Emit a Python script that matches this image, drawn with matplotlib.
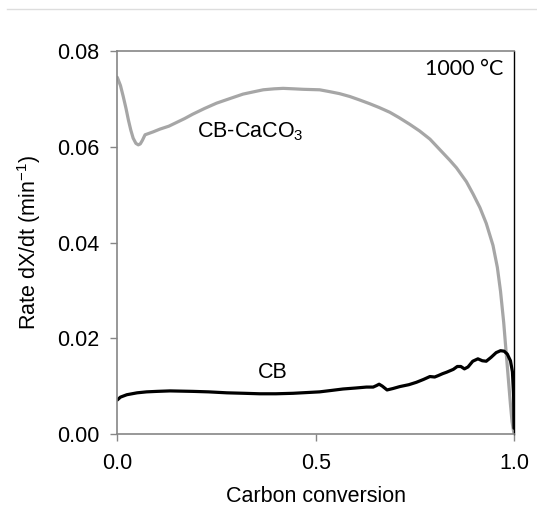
import matplotlib
matplotlib.use("Agg")
import matplotlib.pyplot as plt
from matplotlib.lines import Line2D

plt.rcParams['font.family'] = ['Liberation Sans', 'DejaVu Sans']
plt.rcParams['mathtext.fontset'] = 'custom'
plt.rcParams['mathtext.rm'] = 'Liberation Sans'
plt.rcParams['mathtext.it'] = 'Liberation Sans'

# CB-CaCO3 series (grey)
x_caco3 = [0.0, 0.008, 0.015, 0.022, 0.028, 0.034, 0.040, 0.047, 0.053, 0.058,
           0.063, 0.07, 0.09, 0.108, 0.13, 0.15, 0.17, 0.19, 0.22, 0.25, 0.285,
           0.317, 0.345, 0.368, 0.395, 0.418, 0.445, 0.469, 0.51, 0.536, 0.56,
           0.586, 0.61, 0.636, 0.66, 0.687, 0.71, 0.737, 0.762, 0.788, 0.813,
           0.838, 0.855, 0.88, 0.897, 0.914, 0.93, 0.947, 0.958, 0.966, 0.974,
           0.980, 0.986, 0.991, 0.995, 1.0]
y_caco3 = [0.0745, 0.0728, 0.0705, 0.0680, 0.0656, 0.0635, 0.0618, 0.0607, 0.0604,
           0.0606, 0.0613, 0.0625, 0.0631, 0.0637, 0.0643, 0.0651, 0.0659, 0.0668,
           0.0680, 0.0691, 0.0701, 0.0710, 0.0715, 0.0719, 0.0721, 0.0722, 0.0721,
           0.0720, 0.0719, 0.0715, 0.0711, 0.0705, 0.0698, 0.0690, 0.0682, 0.0672,
           0.0661, 0.0647, 0.0633, 0.0616, 0.0594, 0.0572, 0.0556, 0.0527, 0.0501,
           0.0473, 0.0440, 0.0394, 0.0348, 0.0298, 0.0233, 0.0172, 0.0112, 0.0062,
           0.0026, 0.0]

# CB series (black)
x_cb = [0.0, 0.008, 0.024, 0.05, 0.074, 0.1, 0.133, 0.191, 0.23, 0.276, 0.32,
        0.359, 0.40, 0.443, 0.51, 0.54, 0.569, 0.60, 0.628, 0.645, 0.653, 0.660,
        0.668, 0.680, 0.695, 0.712, 0.735, 0.754, 0.772, 0.788, 0.80, 0.809,
        0.820, 0.830, 0.847, 0.857, 0.866, 0.875, 0.884, 0.896, 0.909, 0.920,
        0.930, 0.942, 0.955, 0.966, 0.975, 0.983, 0.991, 0.996, 0.999, 1.0]
y_cb = [0.0071, 0.0077, 0.0082, 0.0086, 0.0088, 0.0089, 0.0090, 0.0089, 0.0088,
        0.0086, 0.0085, 0.0084, 0.0084, 0.0085, 0.0088, 0.0091, 0.0094, 0.0096,
        0.0098, 0.0098, 0.0101, 0.0104, 0.0100, 0.0092, 0.0095, 0.0099, 0.0103,
        0.0108, 0.0114, 0.0120, 0.0119, 0.0122, 0.0126, 0.0129, 0.0135, 0.0141,
        0.0141, 0.0136, 0.0140, 0.0152, 0.0157, 0.0153, 0.0152, 0.0160, 0.0170,
        0.0174, 0.0173, 0.0167, 0.0153, 0.0130, 0.0080, 0.0012]

x_ticks = [0.0, 0.5, 1.0]
x_ticklabels = ['0.0', '0.5', '1.0']
y_ticks = [0.00, 0.02, 0.04, 0.06, 0.08]
y_ticklabels = ['0.00', '0.02', '0.04', '0.06', '0.08']

fig = plt.figure(figsize=(5.37, 5.19), dpi=100)
ax = fig.add_axes([0.2184, 0.1638, 0.9572 - 0.2184, 0.9017 - 0.1638])

ax.plot(x_caco3, y_caco3, color='#a6a6a6', lw=2.3, solid_capstyle='round', solid_joinstyle='round')
ax.plot(x_cb, y_cb, color='black', lw=2.3, solid_capstyle='round', solid_joinstyle='round')

ax.set_xlim(0, 1.0)
ax.set_ylim(0, 0.08)
ax.set_xticks(x_ticks)
ax.set_xticklabels(x_ticklabels)
ax.set_yticks(y_ticks)
ax.set_yticklabels(y_ticklabels)

for s in ['left', 'bottom', 'top']:
    ax.spines[s].set_color('#868686')
    ax.spines[s].set_linewidth(1.2)
ax.spines['right'].set_color('black')
ax.spines['right'].set_linewidth(1.0)

ax.tick_params(axis='both', direction='out', length=5, width=1.0, color='#868686',
               labelsize=15.5, labelcolor='black')
ax.tick_params(axis='y', pad=8)
ax.tick_params(axis='x', pad=9)

ax.set_xlabel('Carbon conversion', fontsize=15.5, labelpad=8)
ax.set_ylabel(r'Rate dX/dt (min$^{\mathregular{-1}}$)', fontsize=15.5, labelpad=10)

ax.text(0.20, 0.0631, r'CB-CaCO$_{\mathregular{3}}$', fontsize=15.5, ha='left', va='center')
ax.text(0.355, 0.0129, 'CB', fontsize=15.5, ha='left', va='center')
ax.text(0.972, 0.0762, '1000 °C', fontsize=15.5, ha='right', va='center',
        family=['Lato', 'DejaVu Sans'])

fig.add_artist(Line2D([7 / 537, 1.0], [1 - 9 / 519, 1 - 9 / 519], color='#dddddd', lw=1.0,
                      transform=fig.transFigure))

fig.savefig('out.png', dpi=100)
